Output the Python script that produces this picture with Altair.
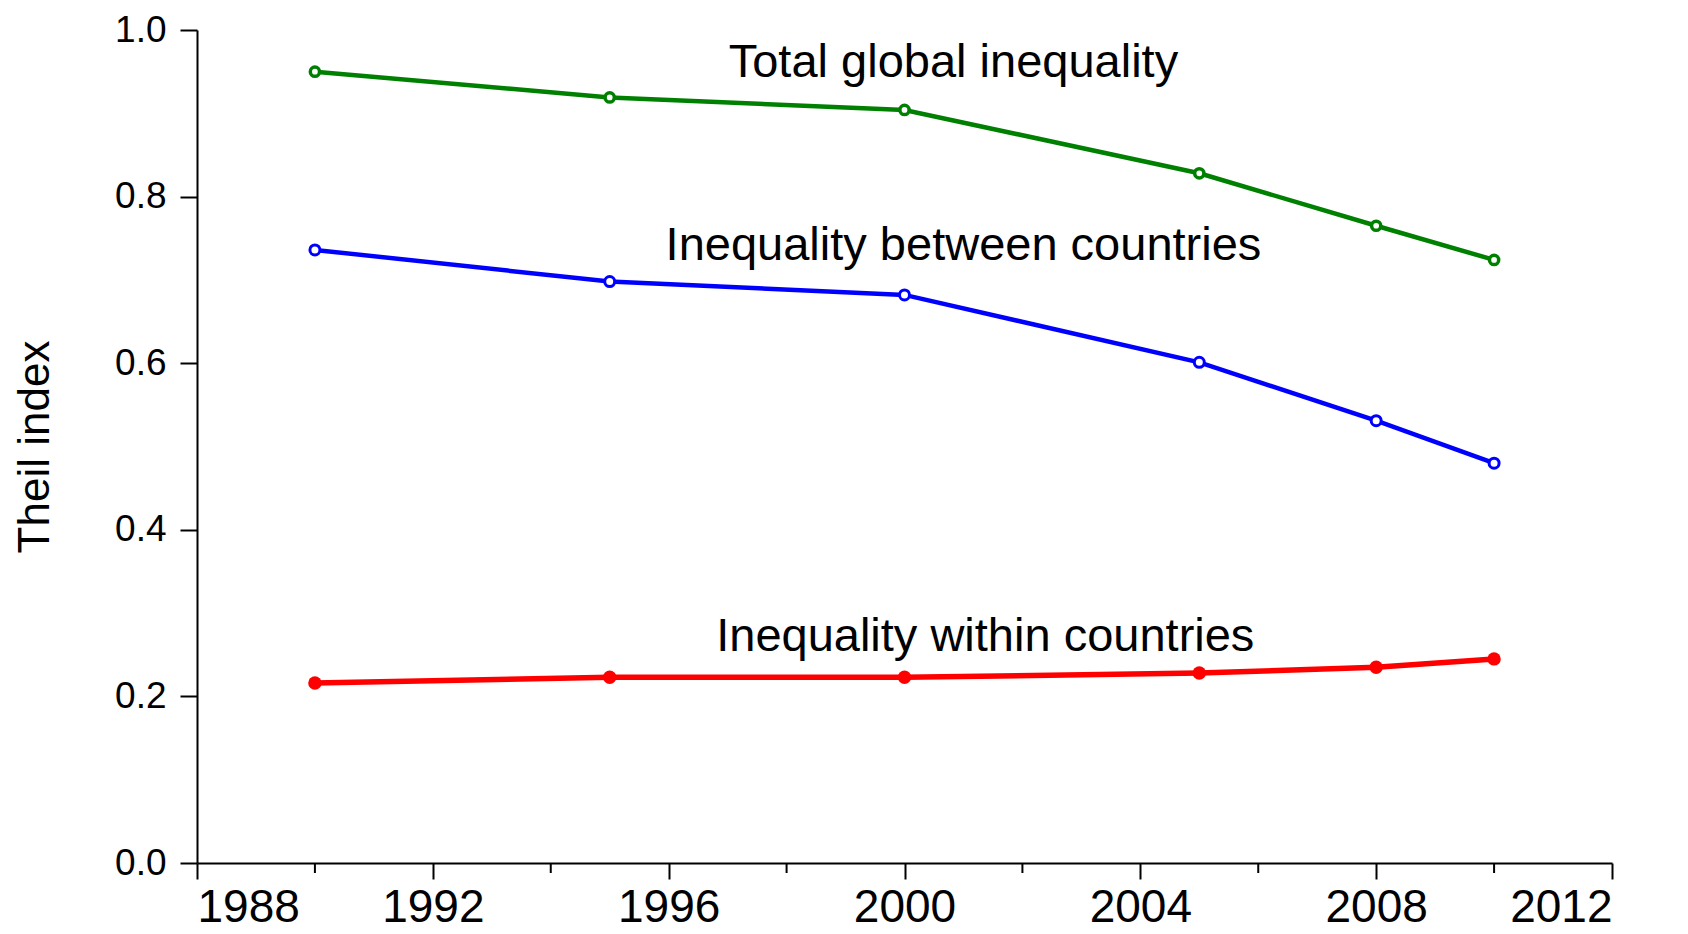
import altair as alt
import pandas as pd

# ---- data ----
years = [1990, 1995, 2000, 2005, 2008, 2010]
total_global = [0.950, 0.919, 0.904, 0.828, 0.765, 0.724]
between_countries = [0.736, 0.698, 0.682, 0.601, 0.531, 0.480]
within_countries = [0.216, 0.223, 0.223, 0.228, 0.235, 0.245]

label_texts = ["Total global inequality", "Inequality between countries", "Inequality within countries"]
label_years = [2000.83, 2001.0, 2001.37]
label_values = [0.943, 0.724, 0.254]

x_major_ticks = [1988, 1992, 1996, 2000, 2004, 2008, 2012]
x_minor_ticks = [1990, 1994, 1998, 2002, 2006, 2010]
y_ticks = [0.0, 0.2, 0.4, 0.6, 0.8, 1.0]

FONT = "Liberation Sans"

x_scale = alt.Scale(domain=[1988, 2012], nice=False, zero=False)
y_scale = alt.Scale(domain=[0, 1], nice=False)

common_axis = dict(domainColor="black", domainWidth=2, tickColor="black", tickWidth=2,
                   labelColor="black", labelFont=FONT, grid=False)

x_axis = alt.Axis(values=x_major_ticks, format="d", tickSize=16, labelPadding=6,
                  labelFontSize=46, title=None, **common_axis)
y_axis = alt.Axis(values=y_ticks, format=".1f", tickSize=17, labelPadding=14,
                  labelFontSize=37, title="Theil index", titleFontSize=44,
                  titleFont=FONT, titleColor="black",
                  titleFontWeight="normal", titlePadding=57, **common_axis)


def series_layers(values, color, filled, size, stroke_width, line_width):
    df = pd.DataFrame({"year": years, "value": values})
    base = alt.Chart(df).encode(
        x=alt.X("year:Q", scale=x_scale, axis=x_axis),
        y=alt.Y("value:Q", scale=y_scale, axis=y_axis),
    )
    line = base.mark_line(color=color, strokeWidth=line_width)
    if filled:
        pts = base.mark_point(shape="circle", filled=True, color=color, size=size, opacity=1)
    else:
        pts = base.mark_point(shape="circle", filled=True, fill="white", stroke=color,
                              strokeWidth=stroke_width, size=size, opacity=1, fillOpacity=1)
    return [line, pts]


layers = []
layers += series_layers(total_global, "#008000", False, 85, 3.5, 4.5)
layers += series_layers(between_countries, "#0000FF", False, 100, 3, 4.5)
layers += series_layers(within_countries, "#FF0000", True, 180, 0, 5.5)

labels_df = pd.DataFrame({"year": label_years, "value": label_values, "text": label_texts})
labels = alt.Chart(labels_df).mark_text(
    font=FONT, fontSize=47, align="center", baseline="alphabetic", color="black"
).encode(
    x=alt.X("year:Q", scale=x_scale),
    y=alt.Y("value:Q", scale=y_scale),
    text="text:N",
)
layers.append(labels)

minor_df = pd.DataFrame({"year": x_minor_ticks})
minor = alt.Chart(minor_df).mark_tick(
    orient="vertical", color="black", thickness=2, size=10, yOffset=5, opacity=1
).encode(
    x=alt.X("year:Q", scale=x_scale),
    y=alt.datum(0, scale=y_scale),
)
layers.append(minor)

chart = alt.layer(*layers).properties(
    width=1415, height=833,
    autosize=alt.AutoSizeParams(type="none"),
    padding={"left": 189, "top": 22, "right": 60, "bottom": 70},
).configure(background="white").configure_view(strokeWidth=0, stroke="transparent")

chart.save("out.html", embed_options={"renderer": "svg", "actions": False})
